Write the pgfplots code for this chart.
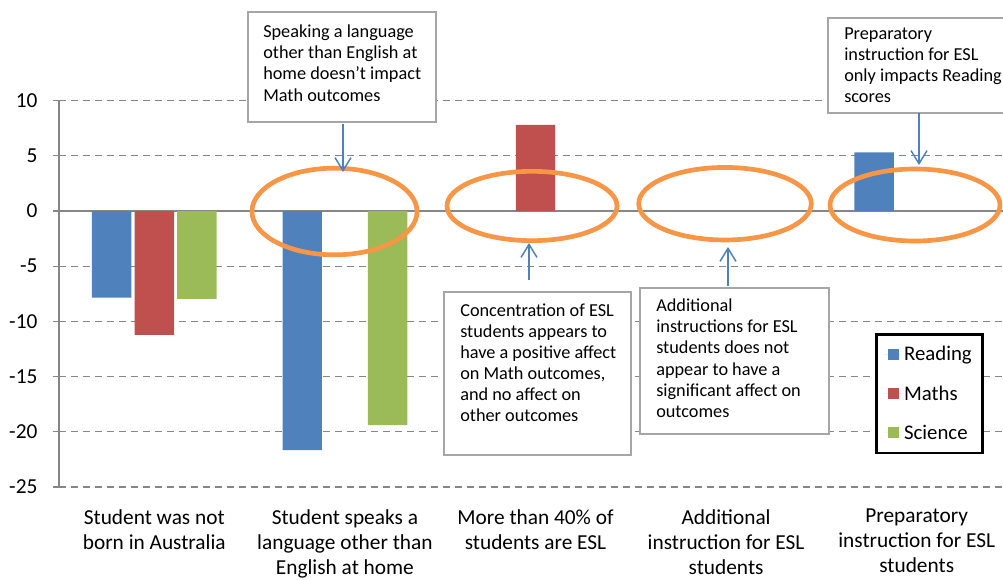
\documentclass[border=0pt]{standalone}
\usepackage{fontspec}
\setmainfont{Carlito}
\usepackage{pgfplots}
\pgfplotsset{compat=1.18}
\usetikzlibrary{arrows.meta}
\definecolor{readc}{HTML}{4F81BD}
\definecolor{mathc}{HTML}{C0504D}
\definecolor{scic}{HTML}{9BBB59}
\definecolor{gridc}{HTML}{868686}
\definecolor{ellc}{HTML}{F79646}
\definecolor{boxc}{HTML}{A6A6A6}
\begin{document}
\begin{tikzpicture}
\begin{axis}[
  at={(44.25pt,-365.25pt)}, anchor=south west,
  x=142.95pt, y=8.28pt,
  xmin=-0.5, xmax=4.5, ymin=-25, ymax=10,
  axis x line*=bottom, axis y line*=left,
  x axis line style={draw=none},
  y axis line style={draw=gridc, line width=1pt},
  tick align=outside, major tick length=4.5pt,
  xtick={0,1,2,3,4},
  xticklabels={{Student was not\\born in Australia},{Student speaks a\\language other than\\English at home},{More than 40\% of\\students are ESL},{Additional\\instruction for ESL\\students},{Preparatory\\instruction for ESL\\students}},
  xtick style={draw=none},
  xticklabel style={align=center, anchor=north, inner sep=0pt, yshift=-12pt, font=\fontsize{16pt}{18.75pt}\selectfont},
  ytick={-25,-20,-15,-10,-5,5,10},
  extra y ticks={0},
  extra y tick style={grid style={solid, draw=gridc, line width=1pt}},
  ytick style={draw=gridc, line width=1pt},
  yticklabel style={anchor=east, inner sep=0pt, xshift=-11.5pt, font=\fontsize{16pt}{19pt}\selectfont},
  /pgf/number format/assume math mode=true,
  ymajorgrids,
  grid style={draw=gridc, line width=1pt, dash pattern=on 5.25pt off 3.75pt},
  ybar=2.4pt, bar width=29.6pt,
  legend image code/.code={\path (0pt,0pt) -- (12.75pt,0pt); \fill[#1, draw=none] (3pt,-4.1pt) rectangle (11.25pt,4.1pt);},
  legend style={at={(rel axis cs:0.8562,0.3985)}, anchor=north west, draw=black, line width=2.2pt, fill=white,
    inner xsep=6pt, inner ysep=7pt, row sep=13pt, font=\fontsize{15.6pt}{18pt}\selectfont},
  legend cell align=left,
]
\addplot[fill=readc, draw=none] coordinates {(0,-7.85) (1,-21.65) (4,5.3)};
\addplot[fill=mathc, draw=none] coordinates {(0,-11.23) (2,7.8)};
\addplot[fill=scic, draw=none] coordinates {(0,-7.95) (1,-19.4)};
\legend{Reading,Maths,Science}
\end{axis}
\begin{scope}[x=0.75pt,y=-0.75pt]
  % ellipses
  \draw[ellc, line width=3.5pt] (334.5,211.5) ellipse [x radius=61.9pt, y radius=32.5pt];
  \draw[ellc, line width=3.5pt] (532,206) ellipse [x radius=63.75pt, y radius=26pt];
  \draw[ellc, line width=3.5pt] (725,203.7) ellipse [x radius=64.7pt, y radius=27.2pt];
  \draw[ellc, line width=3.5pt] (915,205) ellipse [x radius=63.75pt, y radius=27pt];
  % boxes
  \draw[boxc, fill=white, line width=1.1pt] (248,12) rectangle (436,122);
  \draw[boxc, fill=white, line width=1.1pt] (828,18) rectangle (1012,113);
  \draw[boxc, fill=white, line width=1.1pt] (444,292) rectangle (631,455);
  \draw[boxc, fill=white, line width=1.1pt] (640,288) rectangle (829,434);
  % arrows
  \draw[readc, line width=1.1pt, -{Straight Barb[length=9.75pt,width=12pt]}] (343,124) -- (343,172);
  \draw[readc, line width=1.1pt, -{Straight Barb[length=9.75pt,width=12pt]}] (529,280) -- (529,243);
  \draw[readc, line width=1.1pt, -{Straight Barb[length=9.75pt,width=12pt]}] (728,286) -- (728,247);
  \draw[readc, line width=1.1pt, -{Straight Barb[length=9.75pt,width=12pt]}] (919,113) -- (919,165);
  % texts
  \begin{scope}[every node/.style={anchor=base west, inner sep=0pt, font=\fontsize{13.7pt}{16pt}\selectfont}]
    \node at (263,37.5) {Speaking a language};
    \node at (263,58.7) {other than English at};
    \node at (263,79.9) {home doesn't impact};
    \node at (263,101.1) {Math outcomes};
    \node at (844,39) {Preparatory};
    \node at (844,60.2) {instruction for ESL};
    \node at (844,81.4) {only impacts Reading};
    \node at (844,102.6) {scores};
    \node at (460,316) {Concentration of ESL};
    \node at (460,337) {students appears to};
    \node at (460,358) {have a positive affect};
    \node at (460,379) {on Math outcomes,};
    \node at (460,400) {and no affect on};
    \node at (460,421) {other outcomes};
    \node at (656,311.7) {Additional};
    \node at (656,332.8) {instructions for ESL};
    \node at (656,353.9) {students does not};
    \node at (656,375) {appear to have a};
    \node at (656,396.1) {significant affect on};
    \node at (656,417.2) {outcomes};
  \end{scope}
\end{scope}
\pgfresetboundingbox
\path[use as bounding box] (0pt,0pt) rectangle (752.25pt,-434.25pt);
\end{tikzpicture}
\end{document}
